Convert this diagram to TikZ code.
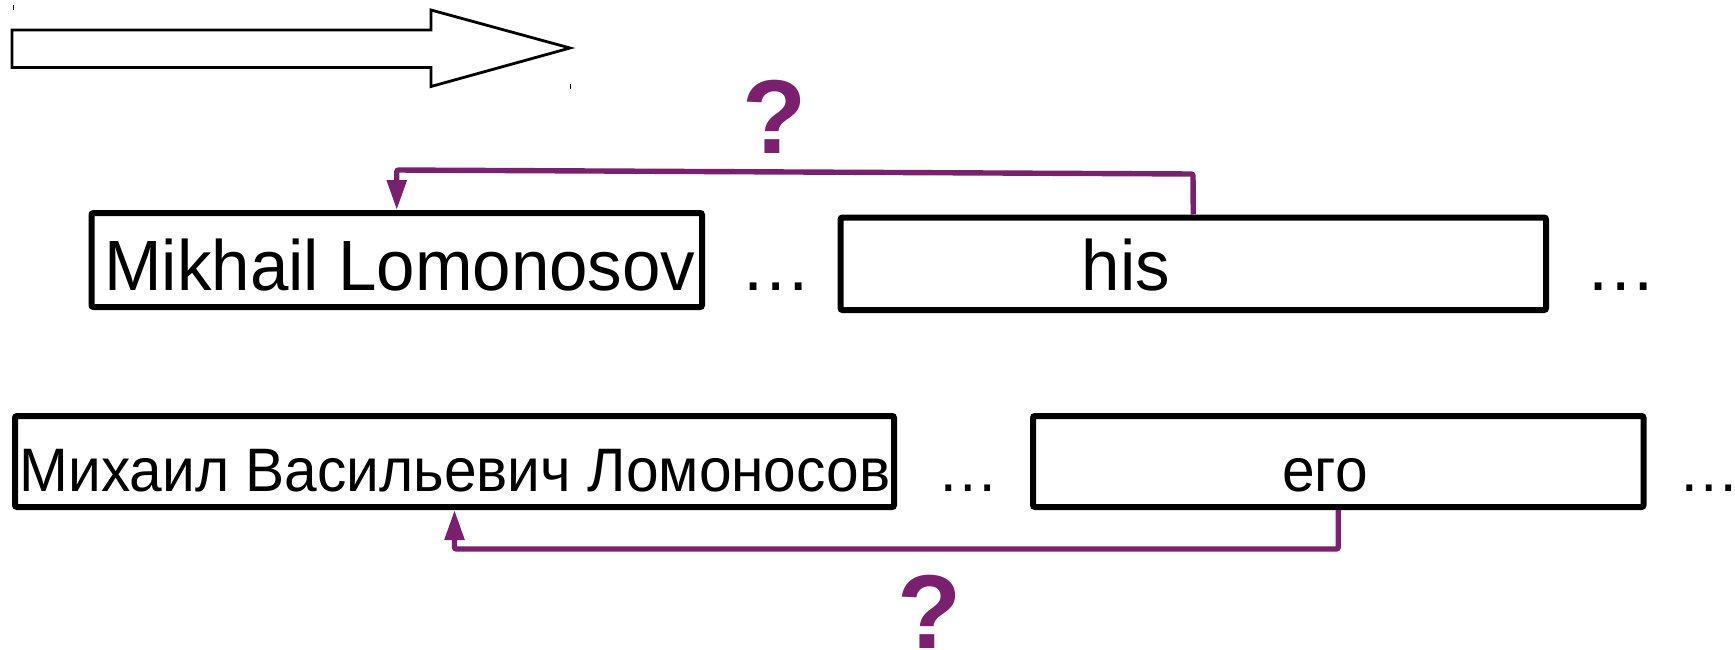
\documentclass[tikz,border=0pt]{standalone}
\usepackage{graphicx}
\usepackage{fontspec}
\setmainfont{Liberation Sans}
\usetikzlibrary{arrows.meta}
\definecolor{linkpurple}{RGB}{123,32,110}
\tikzset{
  wordbox/.style={draw=black, line width=3pt, rounded corners=1pt, inner sep=0pt},
  wordtext/.style={inner sep=0pt, anchor=base},
  link/.style={draw=linkpurple, line width=2.7pt, rounded corners=1pt,
    -{Triangle[length=15pt,width=9.5pt]}},
  query/.style={inner sep=0pt, anchor=base, text=linkpurple,
    font=\fontsize{52.5}{60}\selectfont\bfseries},
  bigfont/.style={font=\fontsize{35.6}{42}\selectfont},
  smallfont/.style={font=\fontsize{30.7}{36}\selectfont}
}
\begin{document}
\begin{tikzpicture}[x=0.5pt,y=-0.5pt]
  \useasboundingbox (0,0) rectangle (1735,649);

  % direction arrow with its two corner marks
  \draw[line width=1.4pt, line join=miter]
    (12,30) -- (431,30) -- (431,10) -- (570,48) -- (431,86.5) -- (431,67.5) -- (12,67.5) -- cycle;
  \draw[line width=0.5pt] (13,5) -- (13,10);
  \draw[line width=0.5pt] (570,84) -- (570,89);

  % English row
  \node[wordbox, minimum width=305.25pt, minimum height=47pt] (b1) at (396.75,260) {};
  \node[wordtext, bigfont] (t1) at (400,290) {\scalebox{0.97}[1]{Mikhail Lomonosov}};
  \node[wordtext, bigfont] (d1) at (775.7,290) {…};
  \node[wordbox, minimum width=352.75pt, minimum height=46.25pt] (b2) at (1193.25,263.75) {};
  \node[wordtext, bigfont] (t2) at (1126,290) {\scalebox{0.97}[1]{his}};
  \node[wordtext, bigfont] (d2) at (1621,290) {…};

  % Russian row
  \node[wordbox, minimum width=439.5pt, minimum height=45.5pt] (b3) at (454.5,461.5) {};
  \node[wordtext, smallfont] (t3) at (455,491) {\scalebox{0.955}[1]{Михаил Васильевич Ломоносов}};
  \node[wordtext, smallfont] (d3) at (968,491) {…};
  \node[wordbox, minimum width=305.25pt, minimum height=45.5pt] (b4) at (1338.25,461.5) {};
  \node[wordtext, smallfont] (t4) at (1325,491) {\scalebox{0.955}[1]{его}};
  \node[wordtext, smallfont] (d4) at (1709.5,491) {…};

  % coreference links
  \coordinate (topright) at (1193,174);
  \coordinate (topleft) at (396.75,170);
  \draw[link] (b2.north) -- (topright) -- (topleft) -- (b1.north);
  \node[query] (q1) at (775,153) {?};

  \coordinate (lowlevel) at (0,549);
  \draw[link] (b4.south) -- (b4.south |- lowlevel) -| (b3.south);
  \node[query] (q2) at (929.5,648) {?};
\end{tikzpicture}
\end{document}
